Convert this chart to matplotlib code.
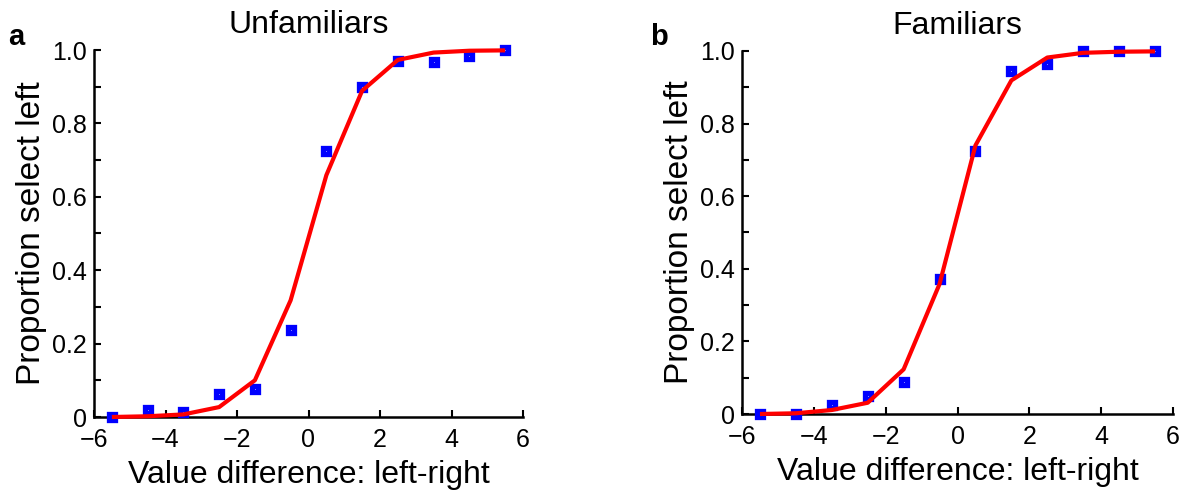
import matplotlib
matplotlib.use("Agg")
import matplotlib.pyplot as plt
import numpy as np

plt.rcParams['font.family'] = ['Liberation Sans', 'DejaVu Sans']

x_vals = [-5.5, -4.5, -3.5, -2.5, -1.5, -0.5, 0.5, 1.5, 2.5, 3.5, 4.5, 5.5]

unfam_data = [0.0, 0.02, 0.014, 0.062, 0.075, 0.236, 0.725, 0.90, 0.97, 0.968, 0.983, 1.0]
unfam_fit = [0.0, 0.002, 0.007, 0.027, 0.10, 0.318, 0.659, 0.889, 0.973, 0.993, 0.998, 0.999]

fam_data = [0.0, 0.0, 0.025, 0.05, 0.089, 0.371, 0.724, 0.945, 0.965, 1.0, 1.0, 1.0]
fam_fit = [0.0, 0.002, 0.011, 0.031, 0.123, 0.358, 0.74, 0.919, 0.982, 0.995, 0.998, 0.999]

titles = ["Unfamiliars", "Familiars"]
panel_letters = ["a", "b"]
xticks = [-6, -4, -2, 0, 2, 4, 6]
yticks = [0, 0.2, 0.4, 0.6, 0.8, 1.0]
ytick_labels = ["0", "0.2", "0.4", "0.6", "0.8", "1.0"]

fig = plt.figure(figsize=(11.82, 4.94), dpi=100)
W, H = 1182, 494
rects = [(94, 50, 523, 417), (742, 51, 1173, 414)]

datasets = [(unfam_data, unfam_fit), (fam_data, fam_fit)]
for i, ((x0, y0, x1, y1), (d, f)) in enumerate(zip(rects, datasets)):
    ax = fig.add_axes([x0 / W, (H - y1) / H, (x1 - x0) / W, (y1 - y0) / H])
    ax.plot(x_vals, d, linestyle='none', marker='s', ms=5, mew=3.8,
            mec='#0000ff', mfc='white', clip_on=False, zorder=3)
    ax.plot(x_vals, f, color='#ff0000', lw=3, clip_on=False, zorder=4,
            solid_capstyle='butt')
    ax.set_xlim(-6, 6)
    ax.set_ylim(0, 1)
    ax.set_xticks(xticks)
    ax.set_xticklabels([("\u2212%d" % -t) if t < 0 else str(t) for t in xticks])
    ax.set_yticks(yticks)
    ax.set_yticklabels(ytick_labels)
    ax.set_yticks(np.arange(0.1, 1.0, 0.2), minor=True)
    for s in ['top', 'right']:
        ax.spines[s].set_visible(False)
    for s in ['left', 'bottom']:
        ax.spines[s].set_linewidth(1.8)
    ax.tick_params(direction='in', length=5, width=1.5, labelsize=18)
    ax.tick_params(axis='x', pad=8)
    ax.tick_params(axis='y', pad=5)
    ax.tick_params(which='minor', direction='in', length=5, width=1.5)
    ax.set_xlabel("Value difference: left-right", fontsize=23, labelpad=6)
    ax.set_ylabel("Proportion select left", fontsize=24, labelpad=4)
    ax.set_title(titles[i], fontsize=23, pad=12)
    fig.text((8 if i == 0 else 650) / W, 1 - 45 / H, panel_letters[i],
             fontsize=21, fontweight='bold', va='baseline', ha='left')

fig.savefig("out.png", dpi=100)
